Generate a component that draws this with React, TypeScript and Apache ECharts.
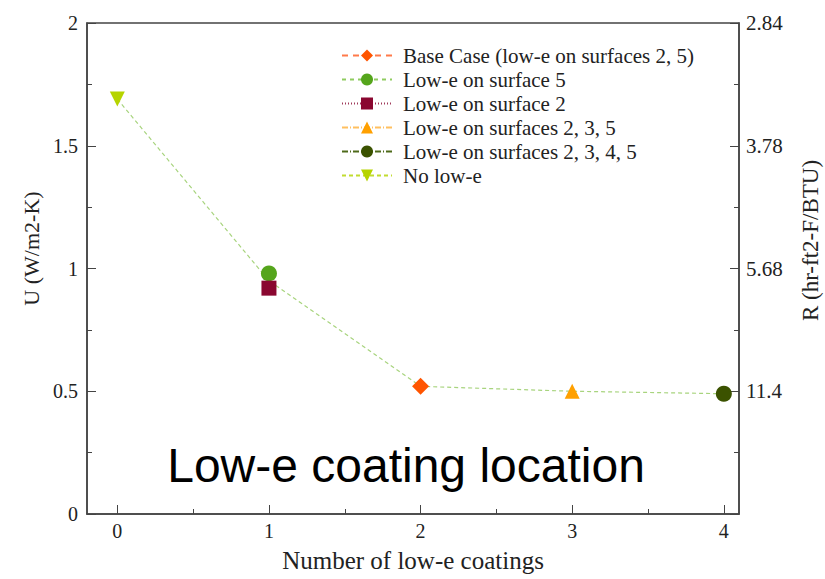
import React, { useEffect, useRef } from "react";
import * as echarts from "echarts";

const xTicks = [0, 1, 2, 3, 4];
const xMinorTicks = [0.5, 1.5, 2.5, 3.5];
const rightLabels: Record<string, string> = { "2": "2.84", "1.5": "3.78", "1": "5.68", "0.5": "11.4", "0": "" };

const trendLine: [number, number][] = [[0, 1.69], [1, 0.95], [2, 0.52], [3, 0.5], [4, 0.49]];
const baseCase: [number, number][] = [[2, 0.52]];
const surface5: [number, number][] = [[1, 0.98]];
const surface2: [number, number][] = [[1, 0.92]];
const surfaces235: [number, number][] = [[3, 0.5]];
const surfaces2345: [number, number][] = [[4, 0.49]];
const noLowE: [number, number][] = [[0, 1.69]];

const seriesNames = [
  "Base Case (low-e on surfaces 2, 5)",
  "Low-e on surface 5",
  "Low-e on surface 2",
  "Low-e on surfaces 2, 3, 5",
  "Low-e on surfaces 2, 3, 4, 5",
  "No low-e",
];

export default function App() {
  const ref = useRef<HTMLDivElement>(null);
  useEffect(() => {
    document.body.style.margin = "0";
    if (!ref.current) return;
    const chart = echarts.init(ref.current, undefined, { renderer: "svg" });
    const serif = "'Liberation Serif', 'Times New Roman', serif";
    const axisColor = "#444";
    const txt = "#222";
    const mk = (name: string, data: [number, number][], symbol: string, size: number, color: string, lineColor: string, lineType: any, rotate = 0) => ({
      name,
      type: "line",
      data,
      symbol,
      symbolSize: size,
      symbolRotate: rotate,
      itemStyle: { color },
      lineStyle: { color: lineColor, type: lineType, width: 1 },
      z: 3,
    });
    chart.setOption({
      animation: false,
      backgroundColor: "#fff",
      grid: {
        left: 87,
        right: 86,
        top: 23,
        bottom: 65,
        show: true,
        borderColor: axisColor,
        borderWidth: 1.5,
        outerBoundsMode: "none",
        containLabel: false,
      },
      legend: {
        data: seriesNames,
        orient: "vertical",
        left: 336,
        top: 40,
        itemGap: 3,
        itemWidth: 50,
        itemHeight: 15,
        textStyle: { fontFamily: serif, fontSize: 21, color: txt, padding: [0, 0, 0, 6] },
      },
      xAxis: [
        {
          type: "value",
          min: -0.2,
          max: 4.1,
          name: "Number of low-e coatings",
          nameLocation: "middle",
          nameGap: 34,
          nameTextStyle: { fontFamily: serif, fontSize: 25, color: txt },
          axisLine: { onZero: false, lineStyle: { color: axisColor, width: 1.5 } },
          axisTick: { inside: true, length: 9, customValues: xTicks, lineStyle: { color: axisColor } },
          axisLabel: { customValues: xTicks, fontFamily: serif, fontSize: 20, color: txt, margin: 7 },
          splitLine: { show: false },
        },
        {
          type: "value",
          min: -0.2,
          max: 4.1,
          position: "bottom",
          axisLine: { show: false, onZero: false },
          axisTick: { inside: true, length: 5, customValues: xMinorTicks, lineStyle: { color: axisColor } },
          axisLabel: { show: false },
          splitLine: { show: false },
        },
      ],
      yAxis: [
        {
          type: "value",
          min: 0,
          max: 2,
          interval: 0.5,
          name: "U (W/m2-K)",
          nameLocation: "middle",
          nameGap: 39,
          nameTextStyle: { fontFamily: serif, fontSize: 22, color: txt, padding: [0, 0, 0, 40] },
          axisLine: { show: true, onZero: false, lineStyle: { color: axisColor, width: 1.5 } },
          axisTick: { inside: true, length: 9, lineStyle: { color: axisColor } },
          minorTick: { show: true, splitNumber: 2, length: 5, lineStyle: { color: axisColor } },
          axisLabel: { fontFamily: serif, fontSize: 20, color: txt, margin: 9 },
          splitLine: { show: false },
          minorSplitLine: { show: false },
        },
        {
          type: "value",
          min: 0,
          max: 2,
          interval: 0.5,
          position: "right",
          name: "R (hr-ft2-F/BTU)",
          nameLocation: "middle",
          nameGap: 60,
          nameRotate: 90,
          nameTextStyle: { fontFamily: serif, fontSize: 23, color: txt, padding: [0, 0, 0, 56] },
          axisLine: { show: true, onZero: false, lineStyle: { color: axisColor, width: 1.5 } },
          axisTick: { inside: true, length: 9, lineStyle: { color: axisColor } },
          minorTick: { show: true, splitNumber: 2, length: 5, lineStyle: { color: axisColor } },
          axisLabel: {
            fontFamily: serif,
            fontSize: 21,
            color: txt,
            margin: 7,
            formatter: (v: number) => rightLabels[String(v)] ?? "",
          },
          splitLine: { show: false },
        },
      ],
      graphic: [
        {
          type: "text",
          x: 406,
          y: 465,
          style: {
            text: "Low-e coating location",
            fontFamily: "'Liberation Sans', Arial, sans-serif",
            fontSize: 48,
            fill: "#000",
            align: "center",
            verticalAlign: "middle",
          },
        },
      ],
      series: [
        {
          name: "trend",
          type: "line",
          data: trendLine,
          symbol: "none",
          lineStyle: { color: "#a8d47e", type: [4, 3], width: 1.2 },
          z: 2,
          silent: true,
        },
        mk(seriesNames[0], baseCase, "diamond", 17, "#ff5500", "#ff7a4a", [6, 5]),
        mk(seriesNames[1], surface5, "circle", 16, "#55a51c", "#8fcc60", [4, 4]),
        mk(seriesNames[2], surface2, "rect", 15, "#8a0730", "#a03a5a", [1, 2]),
        mk(seriesNames[3], surfaces235, "triangle", 15, "#ffa000", "#ffc060", [6, 2, 1, 2]),
        mk(seriesNames[4], surfaces2345, "circle", 16, "#3b5200", "#4e6a1a", [6, 2, 1, 2]),
        mk(seriesNames[5], noLowE, "triangle", 15, "#b6d400", "#c2dc30", [4, 3], 180),
      ],
    });
    return () => chart.dispose();
  }, []);
  return <div ref={ref} style={{ width: 825, height: 579 }} />;
}
